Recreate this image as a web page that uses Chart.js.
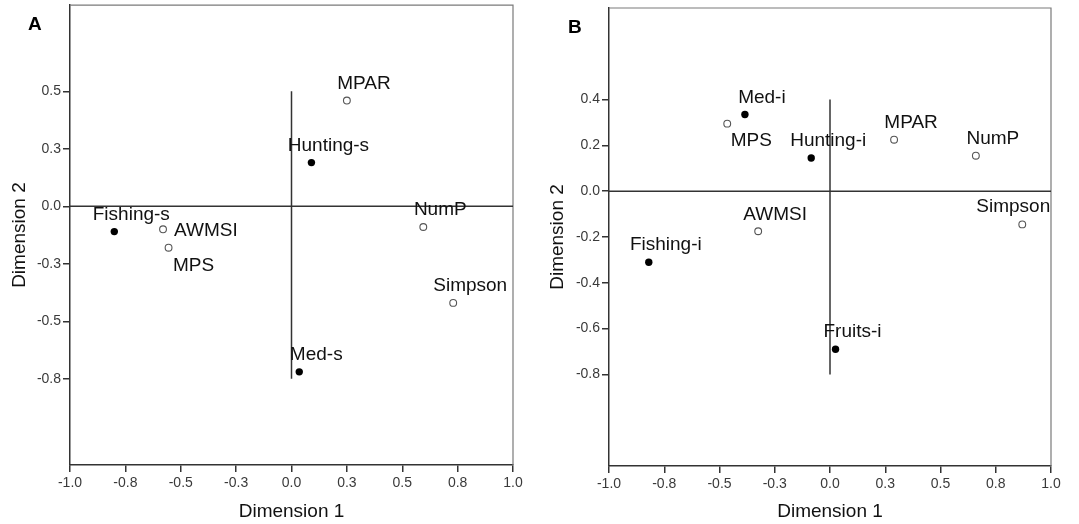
<!DOCTYPE html>
<html>
<head>
<meta charset="utf-8">
<script src="https://cdn.jsdelivr.net/npm/chart.js@4.4.1/dist/chart.umd.min.js"></script>
<style>
  html, body { margin: 0; padding: 0; background: #fff; }
  #wrap { position: relative; width: 1079px; height: 524px; overflow: hidden; }
  #panelA { position: absolute; left: 0; top: 0; }
  #panelB { position: absolute; left: 540px; top: 0; }
</style>
</head>
<body>
<div id="wrap">
  <canvas id="panelA" width="540" height="524"></canvas>
  <canvas id="panelB" width="539" height="524"></canvas>
</div>
<script>
// ---------------- DATA ----------------
const xTickValues = [-1, -0.75, -0.5, -0.25, 0, 0.25, 0.5, 0.75, 1];
const xTickLabels = ["-1.0", "-0.8", "-0.5", "-0.3", "0.0", "0.3", "0.5", "0.8", "1.0"];

// A: seasonal activities + landscape metrics
const aNames  = ["Fishing-s", "AWMSI", "MPS", "Hunting-s", "MPAR", "NumP", "Simpson", "Med-s"];
const aDim1   = [-0.80, -0.58, -0.555, 0.09, 0.25, 0.595, 0.73, 0.035];
const aDim2   = [-0.11, -0.10, -0.18, 0.19, 0.46, -0.09, -0.42, -0.72];
const aFilled = [true, false, false, true, false, false, false, true];
const aYTickValues = [-0.75, -0.5, -0.25, 0, 0.25, 0.5];
const aYTickLabels = ["-0.8", "-0.5", "-0.3", "0.0", "0.3", "0.5"];
const aYRange = [-1.125, 0.875];
const aVLine  = [-0.75, 0.5];

// B: intensity activities + landscape metrics
const bNames  = ["Med-i", "MPS", "Hunting-i", "MPAR", "NumP", "AWMSI", "Simpson", "Fishing-i", "Fruits-i"];
const bDim1   = [-0.385, -0.465, -0.085, 0.29, 0.66, -0.325, 0.87, -0.82, 0.025];
const bDim2   = [0.335, 0.295, 0.145, 0.225, 0.155, -0.175, -0.145, -0.31, -0.69];
const bFilled = [true, false, true, false, false, false, false, true, true];
const bYTickValues = [-0.8, -0.6, -0.4, -0.2, 0, 0.2, 0.4];
const bYTickLabels = ["-0.8", "-0.6", "-0.4", "-0.2", "0.0", "0.2", "0.4"];
const bYRange = [-1.2, 0.8];
const bVLine  = [-0.8, 0.4];

// ---------------- STYLE ----------------
const FONT = "'Liberation Sans', Arial, sans-serif";
const INK = "#111";
const AXIS = "#333";

/* point labels: text next to every point, shifted off the marker */
const pointLabels = {
  id: "pointLabels",
  afterDatasetsDraw(chart, args, opts) {
    const ctx = chart.ctx;
    ctx.save();
    ctx.font = "19px " + FONT;
    ctx.fillStyle = INK;
    ctx.textBaseline = "middle";
    chart.data.datasets.forEach((ds, di) => {
      if (!ds.labelled) return;
      chart.getDatasetMeta(di).data.forEach((el, j) => {
        const name = ds.data[j].name;
        const o = opts.offsets[name] || { dx: 17, dy: -17 };
        ctx.textAlign = o.align || "center";
        ctx.fillText(name, el.x + o.dx, el.y + o.dy);
      });
    });
    ctx.restore();
  }
};

/* top/right edges of the plot box plus the panel letter */
const frame = {
  id: "frame",
  beforeDatasetsDraw(chart, args, opts) {
    const { left, right, top, bottom } = chart.chartArea;
    const ctx = chart.ctx;
    ctx.save();
    ctx.strokeStyle = "#7a7a7a";
    ctx.lineWidth = 1.2;
    ctx.beginPath();
    ctx.moveTo(left, top);
    ctx.lineTo(right, top);
    ctx.lineTo(right, bottom);
    ctx.stroke();
    ctx.restore();
  },
  afterDraw(chart, args, opts) {
    const ctx = chart.ctx;
    ctx.save();
    ctx.font = "bold 19px " + FONT;
    ctx.fillStyle = "#000";
    ctx.textAlign = "left";
    ctx.textBaseline = "alphabetic";
    ctx.fillText(opts.letter, opts.lx, opts.ly);
    ctx.restore();
  }
};

function makePanel(canvas, p) {
  const pts = p.names.map((n, i) => ({ x: p.dim1[i], y: p.dim2[i], name: n }));
  const solid = pts.filter((_, i) => p.filled[i]);
  const hollow = pts.filter((_, i) => !p.filled[i]);

  return new Chart(canvas, {
    type: "scatter",
    data: {
      datasets: [
        {
          // horizontal reference line at dimension 2 = 0
          data: [{ x: -1, y: 0 }, { x: 1, y: 0 }],
          showLine: true, pointRadius: 0, borderColor: AXIS, borderWidth: 1.5
        },
        {
          // vertical reference line at dimension 1 = 0
          data: [{ x: 0, y: p.vline[0] }, { x: 0, y: p.vline[1] }],
          showLine: true, pointRadius: 0, borderColor: AXIS, borderWidth: 1.5
        },
        {
          data: hollow, labelled: true,
          pointRadius: 3.4, pointBorderWidth: 1.1,
          pointBackgroundColor: "#fff", pointBorderColor: "#555"
        },
        {
          data: solid, labelled: true,
          pointRadius: 3.7, pointBorderWidth: 0,
          pointBackgroundColor: "#000", pointBorderColor: "#000"
        }
      ]
    },
    options: {
      responsive: false,
      animation: false,
      layout: { padding: { left: 0, top: p.box.top, right: p.box.right, bottom: 0 } },
      plugins: {
        legend: { display: false },
        tooltip: { enabled: false },
        pointLabels: { offsets: p.offsets },
        frame: { letter: p.letter, lx: p.letterPos[0], ly: p.letterPos[1] }
      },
      scales: {
        x: {
          type: "linear", min: -1, max: 1,
          afterBuildTicks: s => { s.ticks = xTickValues.map(v => ({ value: v })); },
          afterFit: s => { s.height = p.box.xHeight; s.paddingLeft = 0; s.paddingRight = 0; },
          border: { display: true, color: AXIS, width: 1.5 },
          grid: { display: true, drawOnChartArea: false, drawTicks: true, tickLength: 7, color: AXIS, lineWidth: 1.5 },
          ticks: {
            maxRotation: 0, autoSkip: false, padding: 3, color: "#3a3a3a",
            font: { family: FONT, size: 14 },
            callback: v => xTickLabels[xTickValues.indexOf(v)]
          },
          title: {
            display: true, text: "Dimension 1", color: INK,
            font: { family: FONT, size: 19 }, padding: { top: 0, bottom: 1 }
          }
        },
        y: {
          type: "linear", min: p.yRange[0], max: p.yRange[1],
          afterBuildTicks: s => { s.ticks = p.yTicks.map(v => ({ value: v })); },
          afterFit: s => { s.width = p.box.yWidth; s.paddingTop = 0; s.paddingBottom = 0; },
          border: { display: true, color: AXIS, width: 1.5 },
          grid: { display: true, drawOnChartArea: false, drawTicks: true, tickLength: 7, color: AXIS, lineWidth: 1.5 },
          ticks: {
            autoSkip: false, padding: 2, color: "#3a3a3a",
            font: { family: FONT, size: 14 },
            callback: v => p.yLabels[p.yTicks.indexOf(v)]
          },
          title: {
            display: true, text: "Dimension 2", color: INK,
            font: { family: FONT, size: 19 }, padding: { top: p.box.titlePad, bottom: 0 }
          }
        }
      }
    },
    plugins: [frame, pointLabels]
  });
}

makePanel(document.getElementById("panelA"), {
  letter: "A", letterPos: [28, 30],
  names: aNames, dim1: aDim1, dim2: aDim2, filled: aFilled,
  yTicks: aYTickValues, yLabels: aYTickLabels, yRange: aYRange, vline: aVLine,
  box: { top: 5, right: 27, yWidth: 70, xHeight: 59, titlePad: 8.5 },
  offsets: {
    "AWMSI": { dx: 11, dy: 1, align: "left" },
    "MPS": { dx: 25, dy: 18 }
  }
});

makePanel(document.getElementById("panelB"), {
  letter: "B", letterPos: [28, 33],
  names: bNames, dim1: bDim1, dim2: bDim2, filled: bFilled,
  yTicks: bYTickValues, yLabels: bYTickLabels, yRange: bYRange, vline: bVLine,
  box: { top: 8, right: 28, yWidth: 69, xHeight: 58, titlePad: 6.5 },
  offsets: {
    "MPS": { dx: 24, dy: 17 },
    "Simpson": { dx: -9, dy: -18 }
  }
});
</script>
</body>
</html>
